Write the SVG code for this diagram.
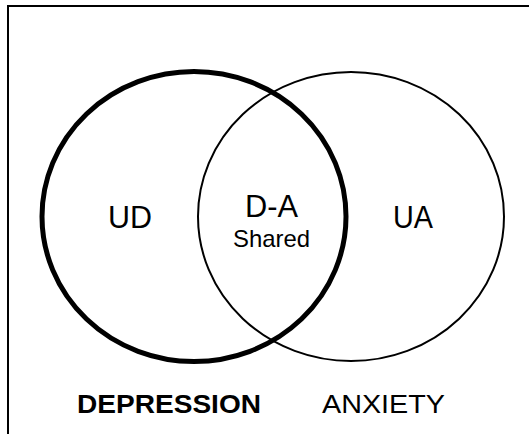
<svg xmlns="http://www.w3.org/2000/svg" width="529" height="434" viewBox="0 0 529 434">
  <style>
    .frame { fill: none; stroke: #000; stroke-width: 2; }
    .set { fill: none; stroke: #000; }
    .label { font-family: "Liberation Sans", Arial, sans-serif; fill: #000; text-anchor: middle; }
  </style>
  <rect width="529" height="434" fill="#fff"/>
  <!-- frame: top and left edges -->
  <path class="frame" d="M8,434 V6 H529"/>
  <g id="connectors"/>
  <g id="depression">
    <ellipse class="set" cx="194" cy="216.5" rx="152" ry="145" stroke-width="5"/>
    <text class="label" x="130" y="228" font-size="31" textLength="44" lengthAdjust="spacingAndGlyphs">UD</text>
    <text class="label" x="169" y="413" font-size="26" font-weight="bold" textLength="184" lengthAdjust="spacingAndGlyphs">DEPRESSION</text>
  </g>
  <g id="anxiety">
    <ellipse class="set" cx="351" cy="216.5" rx="153" ry="144.5" stroke-width="2"/>
    <text class="label" x="413" y="228" font-size="31" textLength="40" lengthAdjust="spacingAndGlyphs">UA</text>
    <text class="label" x="383.5" y="413" font-size="25" textLength="123" lengthAdjust="spacingAndGlyphs">ANXIETY</text>
  </g>
  <g id="shared">
    <text class="label" x="271.5" y="217" font-size="31" textLength="53" lengthAdjust="spacingAndGlyphs">D-A</text>
    <text class="label" x="271.5" y="247" font-size="24" textLength="77" lengthAdjust="spacingAndGlyphs">Shared</text>
  </g>
</svg>
